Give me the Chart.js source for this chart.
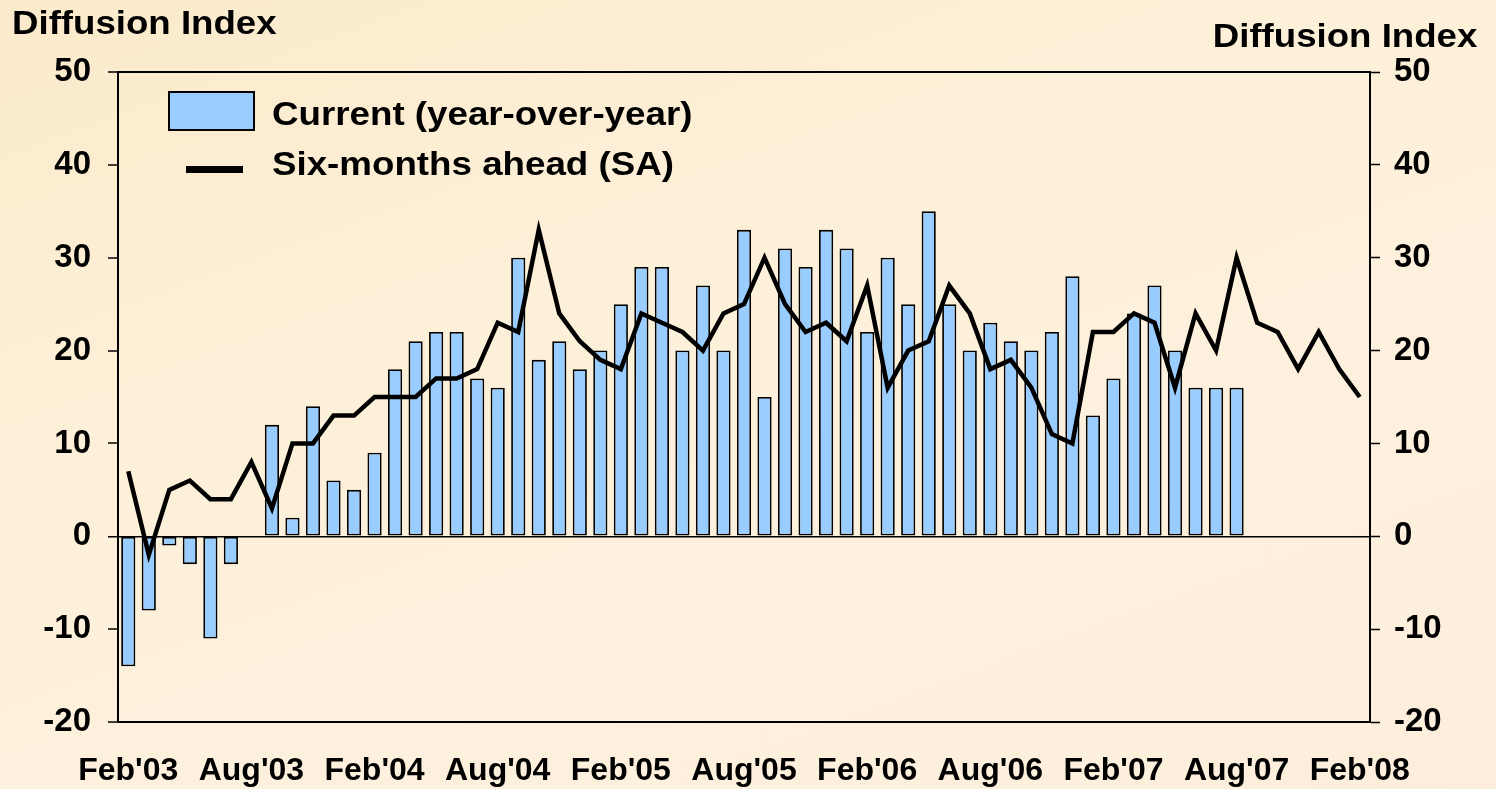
<!DOCTYPE html>
<html>
<head>
<meta charset="utf-8">
<script src="https://cdn.jsdelivr.net/npm/chart.js@4.4.1/dist/chart.umd.min.js"></script>
<style>
  html, body { margin: 0; padding: 0; }
  body {
    width: 1496px; height: 789px; position: relative; overflow: hidden;
    background: linear-gradient(160deg, #FBEACB 0%, #FDF0D8 35%, #FDF1DE 65%, #FCEEDB 100%);
    font-family: "Liberation Sans", Arial, sans-serif;
  }
  canvas { position: absolute; left: 0; top: 0; }
  .txt { position: absolute; font-weight: bold; color: #000; white-space: nowrap; line-height: 1; }
  #titleL { left: 12px; top: 6px; font-size: 33px; transform: scaleX(1.11); transform-origin: left top; }
  #titleR { right: 19px; top: 19px; font-size: 33px; transform: scaleX(1.11); transform-origin: right top; }
  .leg { left: 272px; font-size: 34px; transform: scaleX(1.08); transform-origin: left top; }
  #leg1 { top: 96px; }
  #leg2 { top: 146px; }
  #box1 { position: absolute; left: 168px; top: 91px; width: 83px; height: 36px; background: #99CCFF; border: 2px solid #000; }
  #line2 { position: absolute; left: 186px; top: 166px; width: 57px; height: 7px; background: #000; }
</style>
</head>
<body>
<canvas id="c" width="1496" height="789"></canvas>
<div class="txt" id="titleL">Diffusion Index</div>
<div class="txt" id="titleR">Diffusion Index</div>
<div id="box1"></div>
<div class="txt leg" id="leg1">Current (year-over-year)</div>
<div id="line2"></div>
<div class="txt leg" id="leg2">Six-months ahead (SA)</div>
<script>
const months = [
  "Feb'03","Mar'03","Apr'03","May'03","Jun'03","Jul'03","Aug'03","Sep'03","Oct'03","Nov'03","Dec'03",
  "Jan'04","Feb'04","Mar'04","Apr'04","May'04","Jun'04","Jul'04","Aug'04","Sep'04","Oct'04","Nov'04","Dec'04",
  "Jan'05","Feb'05","Mar'05","Apr'05","May'05","Jun'05","Jul'05","Aug'05","Sep'05","Oct'05","Nov'05","Dec'05",
  "Jan'06","Feb'06","Mar'06","Apr'06","May'06","Jun'06","Jul'06","Aug'06","Sep'06","Oct'06","Nov'06","Dec'06",
  "Jan'07","Feb'07","Mar'07","Apr'07","May'07","Jun'07","Jul'07","Aug'07","Sep'07","Oct'07","Nov'07","Dec'07",
  "Jan'08","Feb'08"
];
const currentYoY = [
  -14, -8, -1, -3, -11, -3, 0, 12, 2, 14, 6, 5, 9, 18, 21, 22, 22, 17, 16, 30,
  19, 21, 18, 20, 25, 29, 29, 20, 27, 20, 33, 15, 31, 29, 33, 31, 22, 30, 25,
  35, 25, 20, 23, 21, 20, 22, 28, 13, 17, 24, 27, 20, 16, 16, 16
];
const sixMonthsAhead = [
  7, -2, 5, 6, 4, 4, 8, 3, 10, 10, 13, 13, 15, 15, 15, 17, 17, 18, 23, 22,
  33, 24, 21, 19, 18, 24, 23, 22, 20, 24, 25, 30, 25, 22, 23, 21, 27, 16, 20,
  21, 27, 24, 18, 19, 16, 11, 10, 22, 22, 24, 23, 16, 24, 20, 30, 23, 22, 18, 22, 18, 15
];
const yMin = -20, yMax = 50, yStep = 10;
const labelEvery = 6;

const tickFont = { family: "'Liberation Sans', Arial, sans-serif", size: 33, weight: 'bold' };
const xFont = { family: "'Liberation Sans', Arial, sans-serif", size: 32, weight: 'bold' };

const topBorder = {
  id: 'topBorder',
  afterDraw(chart) {
    const { ctx, chartArea } = chart;
    ctx.save();
    ctx.strokeStyle = '#000';
    ctx.lineWidth = 2;
    ctx.beginPath();
    ctx.moveTo(chartArea.left - 1, chartArea.top);
    ctx.lineTo(chartArea.right + 1, chartArea.top);
    ctx.stroke();
    ctx.restore();
  }
};

new Chart(document.getElementById('c'), {
  type: 'bar',
  data: {
    labels: months,
    datasets: [
      {
        type: 'line',
        label: 'Six-months ahead (SA)',
        data: sixMonthsAhead,
        borderColor: '#000',
        borderWidth: 4.5,
        pointRadius: 0,
        tension: 0,
        fill: false,
        order: 0,
        yAxisID: 'y'
      },
      {
        type: 'bar',
        label: 'Current (year-over-year)',
        data: currentYoY,
        backgroundColor: '#99CCFF',
        borderColor: '#000',
        borderWidth: 1.8,
        borderSkipped: false,
        barPercentage: 0.69,
        categoryPercentage: 1.0,
        order: 1,
        yAxisID: 'y'
      }
    ]
  },
  options: {
    responsive: false,
    maintainAspectRatio: false,
    devicePixelRatio: 1,
    animation: false,
    layout: { padding: { top: 72, left: 0, right: 0, bottom: 0 } },
    plugins: { legend: { display: false }, tooltip: { enabled: false } },
    scales: {
      x: {
        offset: true,
        grid: { display: false, drawTicks: false },
        border: { display: true, color: '#000', width: 2 },
        ticks: {
          autoSkip: false, maxRotation: 0, minRotation: 0, padding: 30,
          color: '#000', font: xFont,
          callback: (v, i) => (i % labelEvery === 0 ? months[i] : '')
        },
        afterFit(scale) { scale.height = 67; }
      },
      y: {
        position: 'left',
        min: yMin, max: yMax,
        ticks: { stepSize: yStep, color: '#000', font: tickFont, padding: 17 },
        grid: {
          drawOnChartArea: true,
          color: (ctx) => (ctx.tick && ctx.tick.value === 0 ? '#000' : 'rgba(0,0,0,0)'),
          lineWidth: (ctx) => (ctx.tick && ctx.tick.value === 0 ? 1.5 : 0),
          tickColor: '#000', tickLength: 10, tickWidth: 1.5
        },
        border: { display: true, color: '#000', width: 2 },
        afterFit(scale) { scale.width = 118; }
      },
      y2: {
        position: 'right',
        min: yMin, max: yMax,
        ticks: { stepSize: yStep, color: '#000', font: tickFont, padding: 14 },
        grid: { drawOnChartArea: false, tickColor: '#000', tickLength: 10, tickWidth: 1.5 },
        border: { display: true, color: '#000', width: 2 },
        afterFit(scale) { scale.width = 126; }
      }
    }
  },
  plugins: [topBorder]
});
</script>
</body>
</html>
